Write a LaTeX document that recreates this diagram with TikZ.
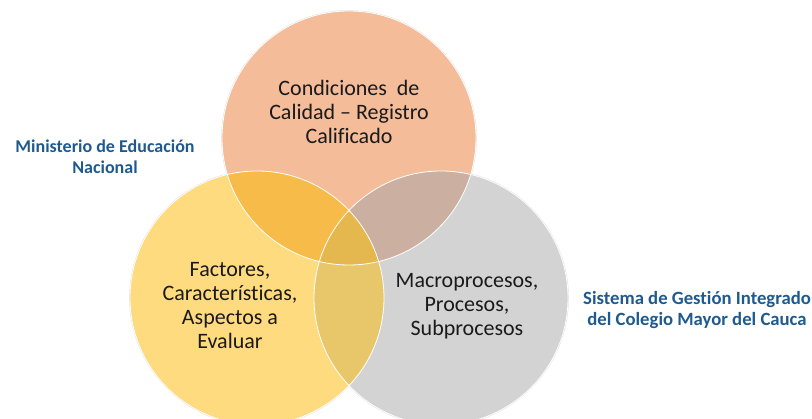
\documentclass[tikz,border=0pt]{standalone}
\usepackage{fontspec}
\setmainfont{Carlito}[Ligatures=NoCommon]
\definecolor{ctop}{HTML}{F4BC98}
\definecolor{cleft}{HTML}{FDDB7E}
\definecolor{cright}{HTML}{D3D3D3}
\definecolor{ctl}{HTML}{F7BB49}
\definecolor{ctr}{HTML}{CBAFA0}
\definecolor{clr}{HTML}{E8C76A}
\definecolor{call}{HTML}{E4B84E}
\definecolor{lblue}{HTML}{1F5A8E}
\definecolor{txt}{HTML}{1A1A1A}
\begin{document}
\begin{tikzpicture}[x=1pt,y=-1pt,
  body/.style={font=\fontsize{22}{24}\selectfont, align=center, text=txt, anchor=base, inner sep=0pt},
  lbl/.style={font=\bfseries\fontsize{18}{21.5}\selectfont, align=center, text=lblue, anchor=base, inner sep=0pt},
  halo/.style={draw=gray!25, line width=1.6pt},
  rim/.style={draw=white, line width=0.8pt}]
\useasboundingbox (0,0) rectangle (812,419);
\coordinate (T) at (349,138);
\coordinate (L) at (257,298);
\coordinate (R) at (441,298);
% faint halo
\foreach \c in {T,L,R} \path[halo] (\c) circle[radius=127pt];
% base fills
\fill[ctop] (T) circle[radius=127pt];
\fill[cleft] (L) circle[radius=127pt];
\fill[cright] (R) circle[radius=127pt];
% pairwise overlaps
\begin{scope}
  \clip (T) circle[radius=127pt];
  \fill[ctl] (L) circle[radius=127pt];
  \fill[ctr] (R) circle[radius=127pt];
\end{scope}
\begin{scope}
  \clip (L) circle[radius=127pt];
  \fill[clr] (R) circle[radius=127pt];
  \clip (R) circle[radius=127pt];
  \fill[call] (T) circle[radius=127pt];
\end{scope}
% white rims
\foreach \c in {T,L,R} \path[rim] (\c) circle[radius=127pt];
% texts (anchor=base is the baseline of the last line)
\node[body] (ttop) at (349,143.7) {Condiciones\ \ de\\Calidad – Registro\\Calificado};
\node[body] (tleft) at (230,348.5) {Factores,\\Características,\\Aspectos a\\Evaluar};
\node[body] (tright) at (467,336) {Macroprocesos,\\Procesos,\\Subprocesos};
\node[lbl] (men) at (105,174) {Ministerio de Educación\\Nacional};
\node[lbl, font=\bfseries\fontsize{18.7}{20.5}\selectfont] (sgi) at (697,325.5) {Sistema de Gestión Integrado\\del Colegio Mayor del Cauca};
\end{tikzpicture}
\end{document}
